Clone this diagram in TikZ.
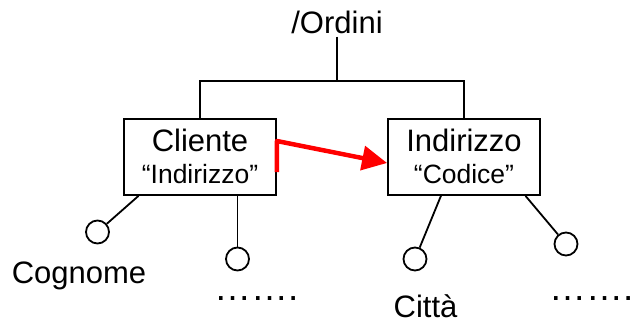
\documentclass[tikz,border=0pt]{standalone}
\usepackage{fontspec}
\setmainfont{Liberation Sans}
\usetikzlibrary{arrows.meta,calc}

\begin{document}
\begin{tikzpicture}[x=1pt,y=-1pt]
                \tikzset{box/.style={draw, line width=1.8pt, minimum width=152pt, minimum height=76pt, inner sep=0pt},
                attr/.style={draw, circle, line width=1.8pt, minimum size=23pt, inner sep=0pt},
                big/.style={font=\fontsize{31}{31}\selectfont, anchor=base, inner sep=0pt},
                small/.style={font=\fontsize{26.5}{26.5}\selectfont, anchor=base, inner sep=0pt},
                more/.style={font=\fontsize{37}{37}\selectfont, anchor=base west, inner sep=0pt},
                ref/.style={draw=red, line width=4.5pt, line join=round, -{Triangle[length=25pt,width=24pt]}}}
                \useasboundingbox (0,0) rectangle (633,322);

                \node[big] (ordini) at (337,33) {/Ordini};
                \node[box] (cliente) at (200,157) {};
                \node[box] (indirizzo) at (464,157) {};
                \node[big] (clienteName) at (200,151) {Cliente};
                \node[small] (clienteKey) at (200,183) {“Indirizzo”};
                \node[big] (indirizzoName) at (464,151) {Indirizzo};
                \node[small] (indirizzoKey) at (464,183) {“Codice”};

                \coordinate (fork) at (337,81);
                \draw[line width=1.8pt] ([yshift=-3pt]ordini.south) -- (fork);
                \draw[line width=1.8pt] (cliente.north) -- (cliente.north |- fork) -- (indirizzo.north |- fork) -- (indirizzo.north);

                \node[attr] (cognomeDot) at (97.5,232) {};
                \node[attr] (clienteDot) at (237.5,259) {};
                \node[attr] (cittaDot) at (415,259) {};
                \node[attr] (indirizzoDot) at (566,244) {};
                \draw[line width=1.8pt] ($(cliente.south west)!0.1!(cliente.south east)$) -- (cognomeDot);
                \draw[line width=1.8pt] (clienteDot |- cliente.south) -- (clienteDot);
                \draw[line width=1.8pt] ($(indirizzo.south west)!0.35!(indirizzo.south east)$) -- (cittaDot);
                \draw[line width=1.8pt] ($(indirizzo.south west)!0.9!(indirizzo.south east)$) -- (indirizzoDot);

                \node[big] (cognome) at (79,283) {Cognome};
                \node[big] (citta) at (425.5,317) {Città};
                \node[more] (clienteMore) at (214,300) {…….};
                \node[more] (indirizzoMore) at (549,300) {…….};

                \draw[ref] ($(cliente.east)+(0,15)$) -- ($(cliente.east)+(0,-16)$) -- ($(indirizzo.west)+(0,6)$);
\end{tikzpicture}
\end{document}
